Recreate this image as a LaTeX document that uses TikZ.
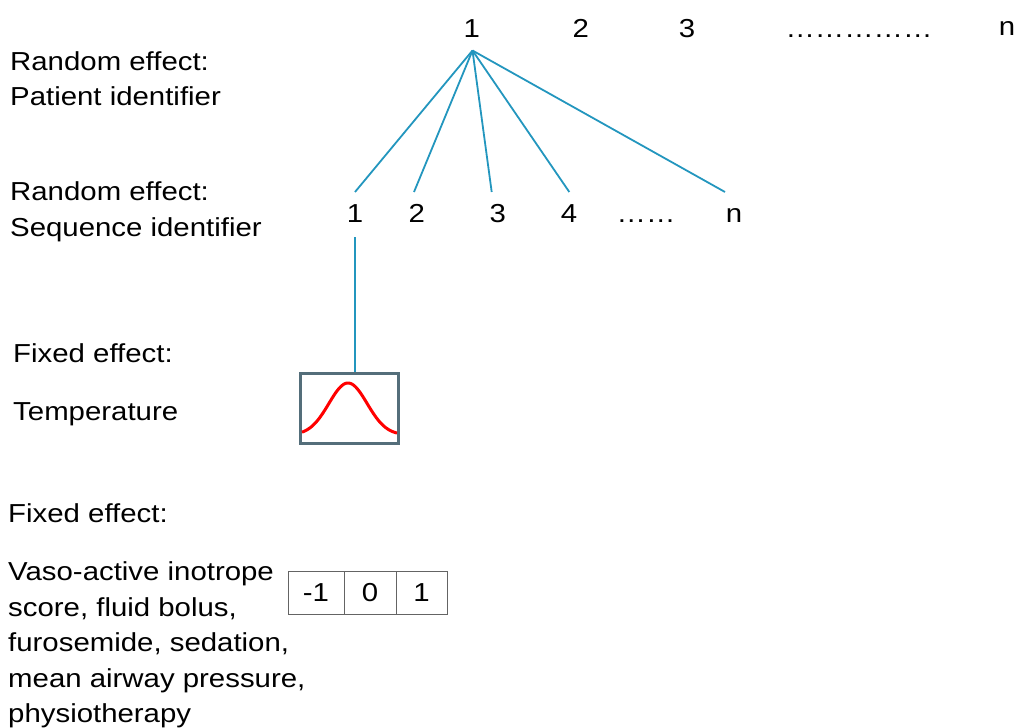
\documentclass[tikz,border=0pt]{standalone}
\usepackage{graphicx}
\usepackage{fontspec}
\setmainfont{Liberation Sans}
\definecolor{linkblue}{RGB}{35,150,190}
\definecolor{boxslate}{RGB}{84,110,122}
\definecolor{cellgray}{RGB}{100,100,100}
\newcommand{\widetxt}[1]{\scalebox{1.13}[1]{#1}}
\begin{document}
\begin{tikzpicture}[x=1pt,y=-1pt,
  txt/.style={font=\fontsize{26}{35}\selectfont},
  lbl/.style={txt, anchor=base west, inner sep=0pt},
  num/.style={txt, anchor=base, inner sep=0pt},
  link/.style={draw=linkblue, line width=1.8pt},
  cell/.style={txt, draw=cellgray, line width=1pt, minimum height=43pt, inner sep=0pt}
]
\useasboundingbox (0,0) rectangle (1020,728);

% left labels
\node[lbl] (l1) at (10,70) {\widetxt{Random effect:}};
\node[lbl] (l2) at (10,105.5) {\widetxt{Patient identifier}};
\node[lbl] (l3) at (10,200) {\widetxt{Random effect:}};
\node[lbl] (l4) at (10,236) {\widetxt{Sequence identifier}};
\node[lbl] (l5) at (13,362) {\widetxt{Fixed effect:}};
\node[lbl] (l6) at (13,420) {\widetxt{Temperature}};
\node[lbl] (l7) at (8,522) {\widetxt{Fixed effect:}};
\node[lbl] (l8) at (8,580) {\widetxt{Vaso-active inotrope}};
\node[lbl] (l9) at (8,616) {\widetxt{score, fluid bolus,}};
\node[lbl] (l10) at (8,651.5) {\widetxt{furosemide, sedation,}};
\node[lbl] (l11) at (8,687.5) {\widetxt{mean airway pressure,}};
\node[lbl] (l12) at (8,722) {\widetxt{physiotherapy}};

% patient row
\node[num] (p1) at (471.7,37) {\widetxt{1}};
\node[num] (p2) at (580.7,37) {\widetxt{2}};
\node[num] (p3) at (687,37) {\widetxt{3}};
\node[num] (pdots) at (859,37) {\widetxt{……………}};
\node[num] (pn) at (1007,35) {\widetxt{n}};

% sequence row
\node[num] (s1) at (355,222) {\widetxt{1}};
\node[num] (s2) at (416.7,222) {\widetxt{2}};
\node[num] (s3) at (497.7,222) {\widetxt{3}};
\node[num] (s4) at (569,222) {\widetxt{4}};
\node[num] (sdots) at (646,222) {\widetxt{……}};
\node[num] (sn) at (734,222) {\widetxt{n}};

\coordinate (hub) at (472.5,50.5);
\coordinate (e1) at (355,192);
\coordinate (e2) at (414,192);
\coordinate (e3) at (491.7,192);
\coordinate (e4) at (569.3,192);
\coordinate (e5) at (725,192);
\foreach \e in {e1,e2,e3,e4,e5} \draw[link] (hub) -- (\e);

% temperature box
\node[draw=boxslate, line width=3pt, minimum width=98pt, minimum height=70pt, inner sep=0pt] (box) at (349,408) {};
\draw[link] ([yshift=-15pt]s1.base) -- (s1.base |- box.north);
\draw[red, line width=3pt, line join=round] plot[domain=302:397, samples=80, smooth] (\x, {435-52*exp(0-((\x-348)/27)^2)});

% categorical cells
\node[cell, minimum width=56pt] (c1) at (316,593) {\widetxt{-1}};
\node[cell, minimum width=52pt] (c2) at (370,593) {\widetxt{0}};
\node[cell, minimum width=51pt] (c3) at (421.5,593) {\widetxt{1}};
\end{tikzpicture}
\end{document}
